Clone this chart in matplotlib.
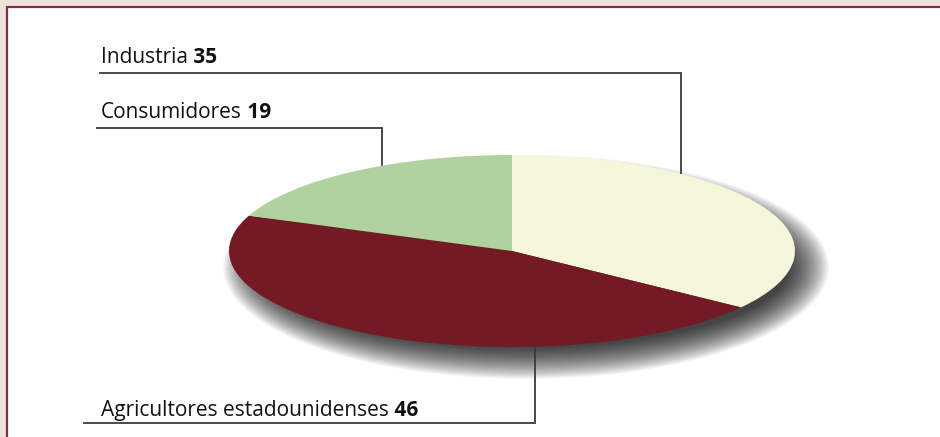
import matplotlib.pyplot as plt
from matplotlib.patches import Ellipse, Rectangle

# datos
etiquetas = ["Industria", "Agricultores estadounidenses", "Consumidores"]
valores = [35, 46, 19]
colores = ["#f6f6da", "#731a24", "#b1d19e"]

W, H = 940, 437
fig = plt.figure(figsize=(W / 100, H / 100), dpi=100)
fig.patch.set_facecolor("#eee3da")

# panel de fondo (coordenadas en pixeles)
ax = fig.add_axes([0, 0, 1, 1])
ax.set_xlim(0, W)
ax.set_ylim(H, 0)
ax.axis("off")
ax.add_patch(Rectangle((6.5, 6.5), 960, 460, facecolor="white",
                       edgecolor="#8c2b3b", lw=1.6))

# elipse del pastel
cx, cy, rx, ry = 512, 251, 283, 96

# sombra difusa
n = 30
for i in range(n):
    d = -20 + 40 * i / (n - 1)
    ax.add_patch(Ellipse((cx + 14, cy + 16), 2 * (rx + d), 2 * (ry + 0.8 * d),
                         facecolor="black", alpha=0.04, lw=0, zorder=1))

pax = fig.add_axes([(cx - rx) / W, 1 - (cy + ry) / H, 2 * rx / W, 2 * ry / H])
pax.axis("off")
pax.patch.set_alpha(0)
pax.pie(valores, colors=colores, startangle=90, counterclock=False, radius=1,
        wedgeprops=dict(linewidth=0), frame=False)
for w in pax.patches:
    w.set_clip_on(False)
pax.set_aspect("auto")
pax.set_xlim(-1, 1)
pax.set_ylim(-1, 1)

# etiquetas y lineas guia
fs = 15
lc = "#3a3a3a"
etq = [
    (etiquetas[0], valores[0], 101, 63, [(100, 73), (681, 73), (681, 174)]),
    (etiquetas[2], valores[2], 101, 118, [(97, 128), (382, 128), (382, 166)]),
    (etiquetas[1], valores[1], 101, 416, [(84, 423), (535, 423), (535, 347)]),
]
for nombre, v, tx, ty, pts in etq:
    t = ax.text(tx, ty, nombre, fontsize=fs, family="Open Sans",
                va="baseline", ha="left", color="#111111")
    ax.annotate(" %d" % v, xy=(1, 0), xycoords=t, va="bottom", ha="left",
                fontsize=fs, family="Open Sans", fontweight="bold", color="#111111")
    xs = [p[0] for p in pts]
    ys = [p[1] for p in pts]
    ax.plot(xs, ys, color=lc, lw=1.3, solid_joinstyle="miter")

fig.savefig("out.png", dpi=100, facecolor=fig.get_facecolor())
